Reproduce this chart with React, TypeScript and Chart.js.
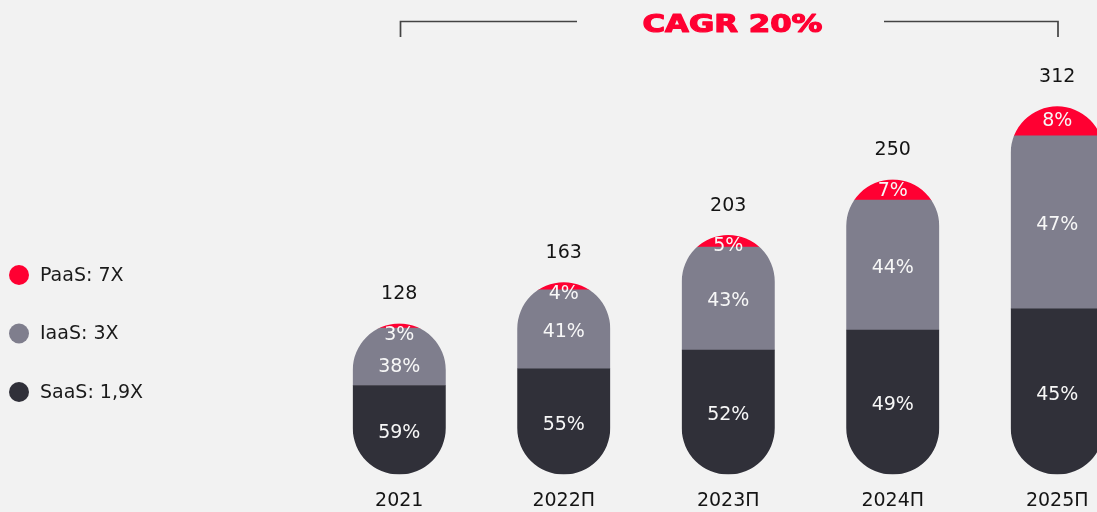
import React, { useEffect, useRef } from "react";
import { Chart, registerables } from "chart.js";

Chart.register(...registerables);

// ---- data ----
const categories = ["2021", "2022П", "2023П", "2024П", "2025П"];
const totals = [128, 163, 203, 250, 312];
const saasPct = [59, 55, 52, 49, 45];
const iaasPct = [38, 41, 43, 44, 47];
const paasPct = [3, 4, 5, 7, 8];
const seriesNames = ["SaaS", "IaaS", "PaaS"];
const legendLabels = ["PaaS: 7X", "IaaS: 3X", "SaaS: 1,9X"];
const legendSeries = ["PaaS", "IaaS", "SaaS"];
const titleText = "CAGR 20%";

const COLORS: Record<string, string> = {
  SaaS: "#303039",
  IaaS: "#7F7E8D",
  PaaS: "#FF0032",
};
const BG = "#F2F2F2";
const FONT = "DejaVu Sans";

const pctBySeries: Record<string, number[]> = {
  SaaS: saasPct,
  IaaS: iaasPct,
  PaaS: paasPct,
};

const pillPlugin = {
  id: "pillPlugin",
  beforeDatasetsDraw(chart: any) {
    const ctx = chart.ctx;
    const topMeta = chart.getDatasetMeta(2);
    const botMeta = chart.getDatasetMeta(0);
    ctx.save();
    ctx.beginPath();
    topMeta.data.forEach((el: any, i: number) => {
      const p = el.getProps(["x", "y", "width"], true);
      const b = botMeta.data[i].getProps(["base"], true);
      const w = p.width;
      ctx.roundRect(p.x - w / 2, p.y, w, b.base - p.y, w / 2);
    });
    ctx.clip();
  },
  afterDatasetsDraw(chart: any) {
    const ctx = chart.ctx;
    ctx.restore();
    ctx.save();
    ctx.textAlign = "center";
    ctx.textBaseline = "middle";
    ctx.font = `19px "${FONT}"`;
    const n = categories.length;
    for (let i = 0; i < n; i++) {
      let paasLabelY = 0;
      for (let d = 2; d >= 0; d--) {
        const el = chart.getDatasetMeta(d).data[i];
        const p = el.getProps(["x", "y", "base"], true);
        const center = (p.y + p.base) / 2;
        let y = center + 3;
        if (d === 2) {
          y = Math.max(center, p.y + 11.5);
          paasLabelY = y;
        } else if (d === 1) {
          y = Math.max(center + 3, paasLabelY + 32);
        }
        ctx.fillStyle = "#F7F7F7";
        ctx.fillText(`${pctBySeries[seriesNames[d]][i]}%`, p.x, y);
      }
      const topEl = chart.getDatasetMeta(2).data[i].getProps(["x", "y"], true);
      ctx.fillStyle = "#141414";
      ctx.fillText(String(totals[i]), topEl.x, topEl.y - 29);
    }
    ctx.restore();
  },
  afterDraw(chart: any) {
    const ctx = chart.ctx;
    ctx.save();
    ctx.font = `19px "${FONT}"`;
    ctx.textAlign = "left";
    ctx.textBaseline = "middle";
    legendLabels.forEach((lab, i) => {
      const y = 275 + i * 58.5;
      ctx.beginPath();
      ctx.arc(19, y, 10, 0, Math.PI * 2);
      ctx.fillStyle = COLORS[legendSeries[i]];
      ctx.fill();
      ctx.fillStyle = "#1A1A1A";
      ctx.fillText(lab, 40, y + 1);
    });
    ctx.strokeStyle = "#444444";
    ctx.lineWidth = 1.7;
    ctx.beginPath();
    ctx.moveTo(400.5, 37);
    ctx.lineTo(400.5, 21.5);
    ctx.lineTo(577, 21.5);
    ctx.moveTo(884, 21.5);
    ctx.lineTo(1058, 21.5);
    ctx.lineTo(1058, 37);
    ctx.stroke();
    ctx.font = `bold 24px "${FONT}"`;
    ctx.textAlign = "center";
    ctx.textBaseline = "middle";
    ctx.fillStyle = COLORS.PaaS;
    ctx.strokeStyle = COLORS.PaaS;
    ctx.lineWidth = 1.2;
    ctx.lineJoin = "round";
    const w = ctx.measureText(titleText).width;
    const sx = 180 / w;
    ctx.translate(732.5, 25.5);
    ctx.scale(sx, 1);
    ctx.fillText(titleText, 0, 0);
    ctx.strokeText(titleText, 0, 0);
    ctx.restore();
  },
};

export default function App() {
  const ref = useRef<HTMLCanvasElement | null>(null);
  useEffect(() => {
    document.body.style.margin = "0";
    document.body.style.background = BG;
    const canvas = ref.current!;
    const datasets = seriesNames.map((s) => ({
      label: s,
      data: totals.map((t, i) => (t * pctBySeries[s][i]) / 100),
      backgroundColor: COLORS[s],
      borderWidth: 0,
      barThickness: 93,
    }));
    const chart = new Chart(canvas, {
      type: "bar",
      data: { labels: categories, datasets },
      options: {
        responsive: false,
        animation: false,
        devicePixelRatio: 1,
        layout: { padding: { left: 317, right: 10.5, top: 73.3, bottom: 1.6 } },
        plugins: {
          legend: { display: false },
          title: { display: false },
          tooltip: { enabled: false },
        },
        scales: {
          x: {
            stacked: true,
            grid: { display: false, drawTicks: false },
            border: { display: false },
            ticks: {
              color: "#141414",
              font: { family: FONT, size: 19 },
              padding: 15,
              maxRotation: 0,
              autoSkip: false,
            },
          },
          y: { stacked: true, display: false, min: 0, max: 340 },
        },
      },
      plugins: [pillPlugin],
    } as any);
    return () => chart.destroy();
  }, []);
  return (
    <div
      style={{
        position: "fixed",
        left: 0,
        top: 0,
        width: "100vw",
        height: "100vh",
        overflow: "hidden",
        background: BG,
      }}
    >
      <canvas ref={ref} width={1150} height={529} style={{ display: "block" }} />
    </div>
  );
}
